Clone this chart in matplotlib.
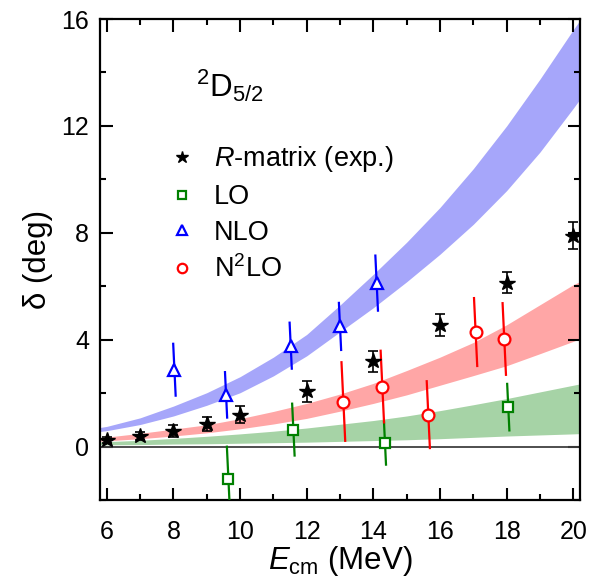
import numpy as np
import matplotlib
matplotlib.use("Agg")
import matplotlib.pyplot as plt
from matplotlib.ticker import MultipleLocator

plt.rcParams["font.family"] = ["Liberation Sans", "DejaVu Sans"]
plt.rcParams["mathtext.fontset"] = "custom"
plt.rcParams["mathtext.rm"] = "Liberation Sans"
plt.rcParams["mathtext.it"] = "Liberation Sans:italic"

# theory bands
band_e = [5.8, 6, 7, 8, 9, 10, 11, 12, 13, 14, 15, 16, 17, 18, 19, 20, 20.2]
nlo_hi = [0.72, 0.76, 1.08, 1.52, 2.02, 2.62, 3.35, 4.2, 5.3, 6.45, 7.65, 8.95, 10.4, 12.0, 13.75, 15.6, 15.95]
nlo_lo = [0.57, 0.6, 0.83, 1.15, 1.55, 2.02, 2.65, 3.4, 4.3, 5.2, 6.17, 7.2, 8.32, 9.58, 11.02, 12.66, 13.0]
n2lo_hi = [0.34, 0.36, 0.5, 0.66, 0.82, 1.05, 1.32, 1.62, 1.97, 2.37, 2.85, 3.35, 3.9, 4.56, 5.31, 6.06, 6.18]
n2lo_lo = [0.21, 0.22, 0.3, 0.4, 0.52, 0.67, 0.85, 1.06, 1.33, 1.62, 1.94, 2.3, 2.66, 3.03, 3.48, 3.94, 4.04]
lo_hi = [0.18, 0.19, 0.24, 0.31, 0.39, 0.48, 0.58, 0.7, 0.84, 0.98, 1.15, 1.35, 1.57, 1.8, 2.05, 2.3, 2.35]
lo_lo = [0.07, 0.07, 0.08, 0.1, 0.11, 0.13, 0.15, 0.17, 0.2, 0.23, 0.26, 0.3, 0.35, 0.4, 0.44, 0.48, 0.49]

# R-matrix phase shifts
rmat_e = [6, 7, 8, 9, 10, 12, 14, 16, 18, 20]
rmat_d = [0.26, 0.41, 0.6, 0.85, 1.2, 2.07, 3.19, 4.56, 6.14, 7.89]
rmat_err = [0.12, 0.15, 0.22, 0.28, 0.33, 0.38, 0.4, 0.4, 0.4, 0.5]

# calculated points
lo_e = [9.65, 11.6, 14.35, 18.05]
lo_d = [-1.2, 0.64, 0.13, 1.48]
lo_err = [1.2, 0.97, 0.8, 0.87]

nlo_e = [8.03, 9.58, 11.52, 13.0, 14.1]
nlo_d = [2.88, 1.94, 3.78, 4.5, 6.12]
nlo_err = [0.97, 0.85, 0.86, 0.88, 1.03]

n2lo_e = [13.1, 14.27, 15.65, 17.07, 17.93]
n2lo_d = [1.69, 2.25, 1.2, 4.29, 4.03]
n2lo_err = [1.47, 1.34, 1.25, 1.27, 1.34]

slant = 0.038  # error lines lean a little in the original


def slanted_bars(ax, e, d, err, color):
    for x, y, s in zip(e, d, err):
        ax.plot([x - slant * s, x + slant * s], [y + s, y - s],
                color=color, lw=1.6, zorder=3)


fig = plt.figure(figsize=(5.96, 5.85), dpi=100)
ax = fig.add_axes([0.168, 0.145, 0.805, 0.8225])

ax.fill_between(band_e, nlo_lo, nlo_hi, color="#a6a6fa", lw=0, zorder=1)
ax.fill_between(band_e, n2lo_lo, n2lo_hi, color="#ffa6a6", lw=0, zorder=1)
ax.fill_between(band_e, lo_lo, lo_hi, color="#a6d3a6", lw=0, zorder=1)
ax.axhline(0, color="#404040", lw=1.3, zorder=2)

slanted_bars(ax, lo_e, lo_d, lo_err, "#008000")
slanted_bars(ax, nlo_e, nlo_d, nlo_err, "blue")
slanted_bars(ax, n2lo_e, n2lo_d, n2lo_err, "red")

ax.errorbar(rmat_e, rmat_d, yerr=rmat_err, fmt="none", ecolor="black",
            elinewidth=1.2, capsize=3.5, capthick=1.2, zorder=5)
h_r, = ax.plot(rmat_e, rmat_d, ls="none", marker="*", ms=11.5, color="black",
               zorder=6, label=r"$\it{R}$-matrix (exp.)")
h_lo, = ax.plot(lo_e, lo_d, ls="none", marker="s", ms=7, mfc="white",
                mec="#008000", mew=1.6, zorder=4, label="LO")
h_nlo, = ax.plot(nlo_e, nlo_d, ls="none", marker="^", ms=9, mfc="white",
                 mec="blue", mew=1.6, zorder=4, label="NLO")
h_n2lo, = ax.plot(n2lo_e, n2lo_d, ls="none", marker="o", ms=8.5, mfc="white",
                  mec="red", mew=1.6, zorder=4, label=r"N$^2$LO")

ax.legend(handles=[h_r, h_lo, h_nlo, h_n2lo], loc="upper left",
          bbox_to_anchor=(0.085, 0.79), frameon=False, fontsize=19.5,
          markerscale=0.8, handlelength=1.2, handletextpad=0.6,
          labelspacing=0.36, numpoints=1)

ax.text(0.2, 0.838, r"$^2$D$_{5/2}$", transform=ax.transAxes,
        fontsize=22.5, va="baseline")

ax.set_xlim(5.8, 20.2)
ax.set_ylim(-2, 16)
ax.xaxis.set_major_locator(MultipleLocator(2))
ax.xaxis.set_minor_locator(MultipleLocator(1))
ax.yaxis.set_major_locator(MultipleLocator(4))
ax.yaxis.set_minor_locator(MultipleLocator(2))
ax.tick_params(which="both", direction="in", top=True, right=True, width=1.5)
ax.tick_params(which="major", length=9, labelsize=18)
ax.tick_params(which="minor", length=4.5)
ax.tick_params(axis="x", which="major", pad=14)
ax.tick_params(axis="y", which="major", pad=8)
for sp in ax.spines.values():
    sp.set_linewidth(1.6)

ax.set_xlabel(r"$E_{\rm cm}$ (MeV)", fontsize=22.5, labelpad=0)
ax.set_ylabel("δ (deg)", fontsize=22.5, labelpad=6)

fig.savefig("out.png", dpi=100)
